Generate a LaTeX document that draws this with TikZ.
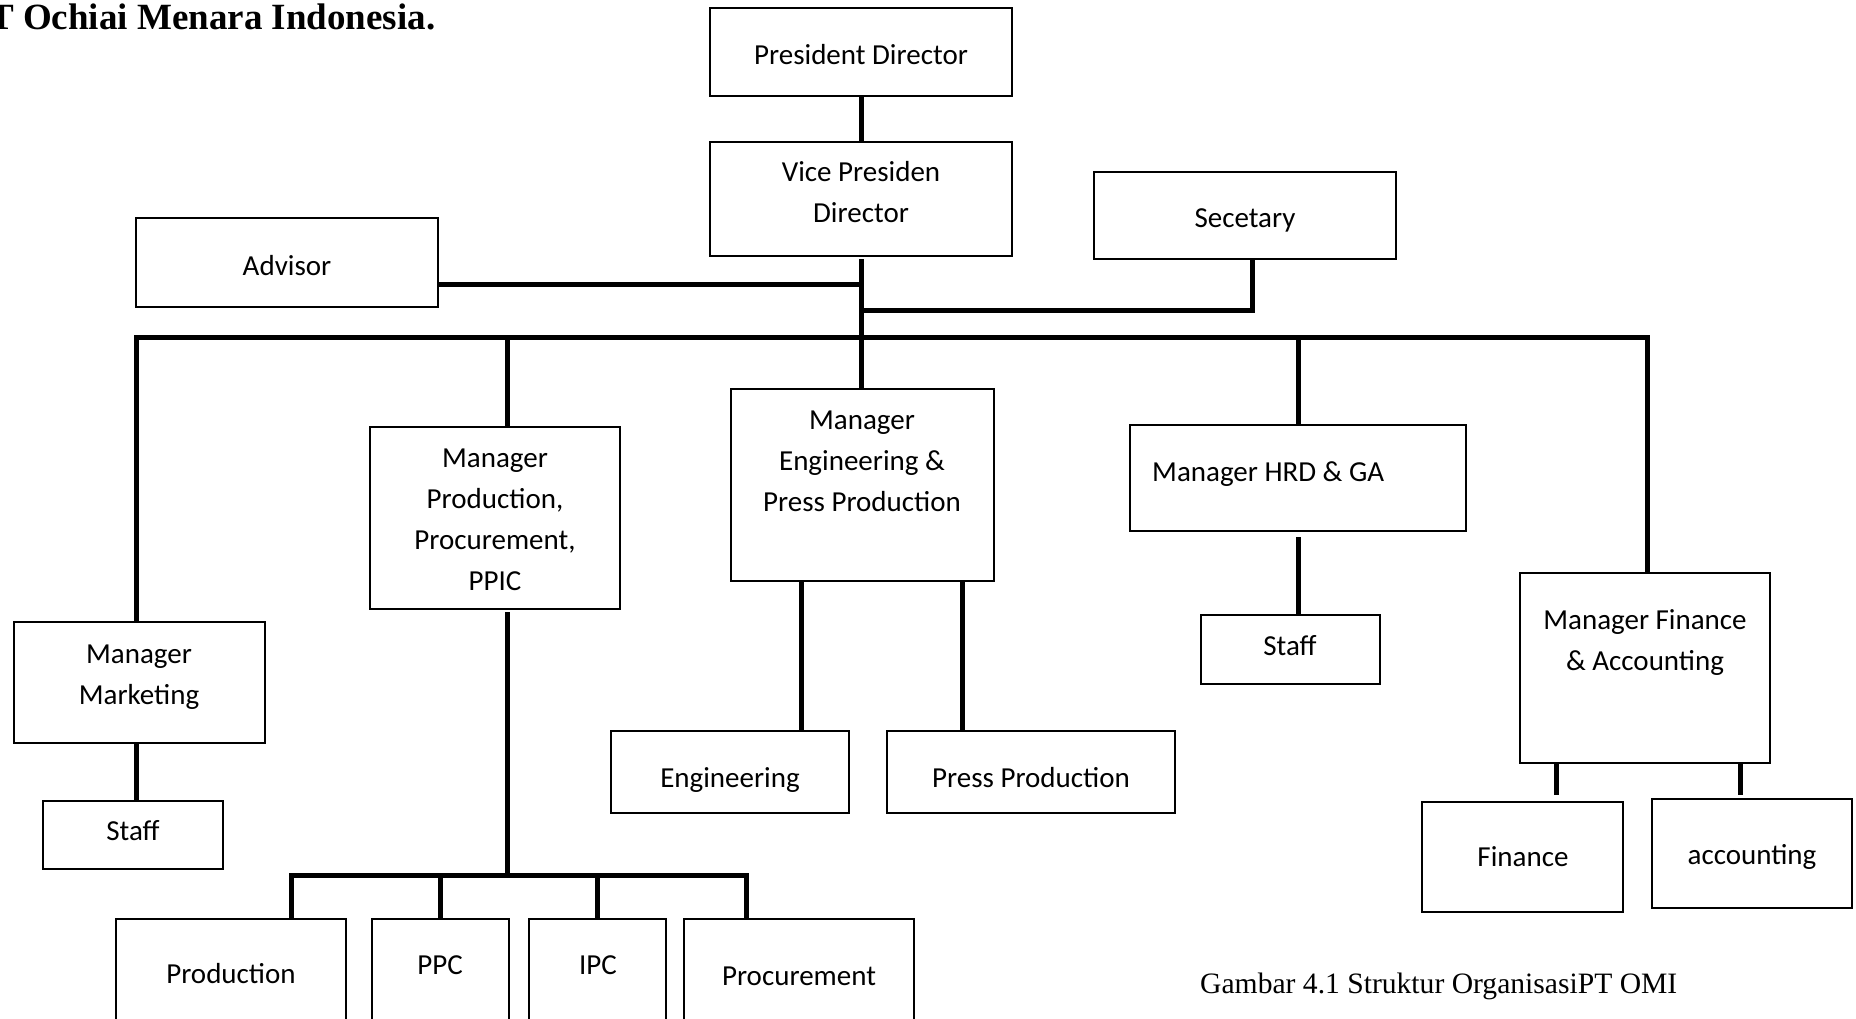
\documentclass[tikz,border=0pt]{standalone}
\usepackage{fontspec}
\setmainfont{Carlito}
\newfontfamily\capfont{Liberation Serif}
\usetikzlibrary{calc}
\begin{document}
\begin{tikzpicture}[x=1pt,y=-1pt,
  box/.style={draw, line width=2.2pt, inner sep=0pt, outer sep=0pt},
  conn/.style={line width=5pt},
  lbl/.style={font=\fontsize{29}{41}\selectfont, align=center, inner sep=0pt, text height=19pt, text depth=0pt}]
\useasboundingbox (0,0) rectangle (1856,1018);
\fill[white] (0,0) rectangle (1856,1018);

% title and caption
\node[anchor=base west, font=\capfont\bfseries\fontsize{37}{40}\selectfont, inner sep=0pt] (title) at (-11,29) {T Ochiai Menara Indonesia.};
\node[anchor=base west, font=\capfont\fontsize{29.6}{32}\selectfont, inner sep=0pt] (caption) at (1200,993) {Gambar 4.1 Struktur OrganisasiPT OMI};

% boxes
\node[box, minimum width=302pt, minimum height=88pt] (pd) at (861,52) {};
\node[box, minimum width=302pt, minimum height=114pt] (vp) at (861,199) {};
\node[box, minimum width=302pt, minimum height=87pt] (sec) at (1245,215.5) {};
\node[box, minimum width=302pt, minimum height=89pt] (adv) at (287,262.5) {};
\node[box, minimum width=251pt, minimum height=121pt] (mkt) at (139.5,682.5) {};
\node[box, minimum width=180pt, minimum height=68pt] (mktstaff) at (133,835) {};
\node[box, minimum width=250pt, minimum height=182pt] (mprod) at (495,518) {};
\node[box, minimum width=230pt, minimum height=111pt] (prod) at (231,974.5) {};
\node[box, minimum width=137pt, minimum height=111pt] (ppc) at (440.5,974.5) {};
\node[box, minimum width=137pt, minimum height=111pt] (ipc) at (597.5,974.5) {};
\node[box, minimum width=230pt, minimum height=111pt] (proc) at (799,974.5) {};
\node[box, minimum width=263pt, minimum height=192pt] (meng) at (862.5,485) {};
\node[box, minimum width=238pt, minimum height=82pt] (eng) at (730,772) {};
\node[box, minimum width=288pt, minimum height=82pt] (press) at (1031,772) {};
\node[box, minimum width=336pt, minimum height=106pt] (hrd) at (1298,478) {};
\node[box, minimum width=179pt, minimum height=69pt] (hrdstaff) at (1290.5,649.5) {};
\node[box, minimum width=250pt, minimum height=190pt] (mfin) at (1645,668) {};
\node[box, minimum width=201pt, minimum height=110pt] (fin) at (1522.5,857) {};
\node[box, minimum width=200pt, minimum height=109pt] (acc) at (1752,853.5) {};

% labels (multi-line labels are placed by their last line)
\node[lbl] (pd-t) at (861,55) {President Director};
\node[lbl] (vp-t) at (861,213) {Vice Presiden\\Director};
\node[lbl] (sec-t) at (1245,218) {Secetary};
\node[lbl] (adv-t) at (287,266) {Advisor};
\node[lbl] (mkt-t) at (139,695) {Manager\\Marketing};
\node[lbl] (mktstaff-t) at (133,831) {Staff};
\node[lbl] (mprod-t) at (495,581) {Manager\\Production,\\Procurement,\\PPIC};
\node[lbl] (prod-t) at (231,974) {Production};
\node[lbl] (ppc-t) at (440,965) {PPC};
\node[lbl] (ipc-t) at (598,965) {IPC};
\node[lbl] (proc-t) at (799,976) {Procurement};
\node[lbl] (meng-t) at (862,502) {Manager\\Engineering \&\\Press Production};
\node[lbl] (eng-t) at (730,778) {Engineering};
\node[lbl] (press-t) at (1031,778) {Press Production};
\node[lbl, anchor=west] (hrd-t) at (1152,472) {Manager HRD \& GA};
\node[lbl] (hrdstaff-t) at (1290,646) {Staff};
\node[lbl] (mfin-t) at (1645,661) {Manager Finance\\\& Accounting};
\node[lbl] (fin-t) at (1523,857) {Finance};
\node[lbl] (acc-t) at (1752,855) {accounting};

% junction coordinates
\coordinate (advj) at (861,284);
\coordinate (secj) at (861,310);
\coordinate (barL) at (136,337);
\coordinate (barR) at (1647,337);
\coordinate (dropP) at (507,337);
\coordinate (dropH) at (1298,337);
\coordinate (subL) at (291,875);
\coordinate (subR) at (746,875);
\coordinate (subP) at (507,875);

% connectors
\draw[conn] (pd.south) -- (vp.north);
\draw[conn] ($(vp.south)+(0,3)$) -- (vp.south |- meng.north);
\draw[conn] (adv.east |- advj) -- (advj);
\draw[conn] ($(sec.south)+(7,0)$) |- (secj);
\draw[conn] (mkt.north -| barL) -- (barL) -- (barR) -- (mfin.north -| barR);
\draw[conn] (dropP) -- (mprod.north -| dropP);
\draw[conn] (dropH) -- (hrd.north -| dropH);
\draw[conn] (mkt.south -| barL) -- (mktstaff.north -| barL);
\draw[conn] ($(mprod.south -| subP)+(0,3)$) -- (subP);
\draw[conn] (prod.north -| subL) -- (subL) -- (subR) -- (proc.north -| subR);
\draw[conn] (ppc.north) -- (ppc.north |- subL);
\draw[conn] (ipc.north) -- (ipc.north |- subL);
\draw[conn] (meng.south -| eng.east) ++(-48,0) coordinate (e1) -- (e1 |- eng.north);
\draw[conn] (meng.south -| press.west) ++(75,0) coordinate (p1) -- (p1 |- press.north);
\draw[conn] ($(hrd.south)+(0,6)$) -- (hrd.south |- hrdstaff.north);
\draw[conn] (mfin.south -| fin.east) ++(-67,0) coordinate (f1) -- ($(f1 |- fin.north)+(0,-7)$);
\draw[conn] (mfin.south -| acc.west) ++(88,0) coordinate (a1) -- ($(a1 |- acc.north)+(0,-4)$);
\end{tikzpicture}
\end{document}
